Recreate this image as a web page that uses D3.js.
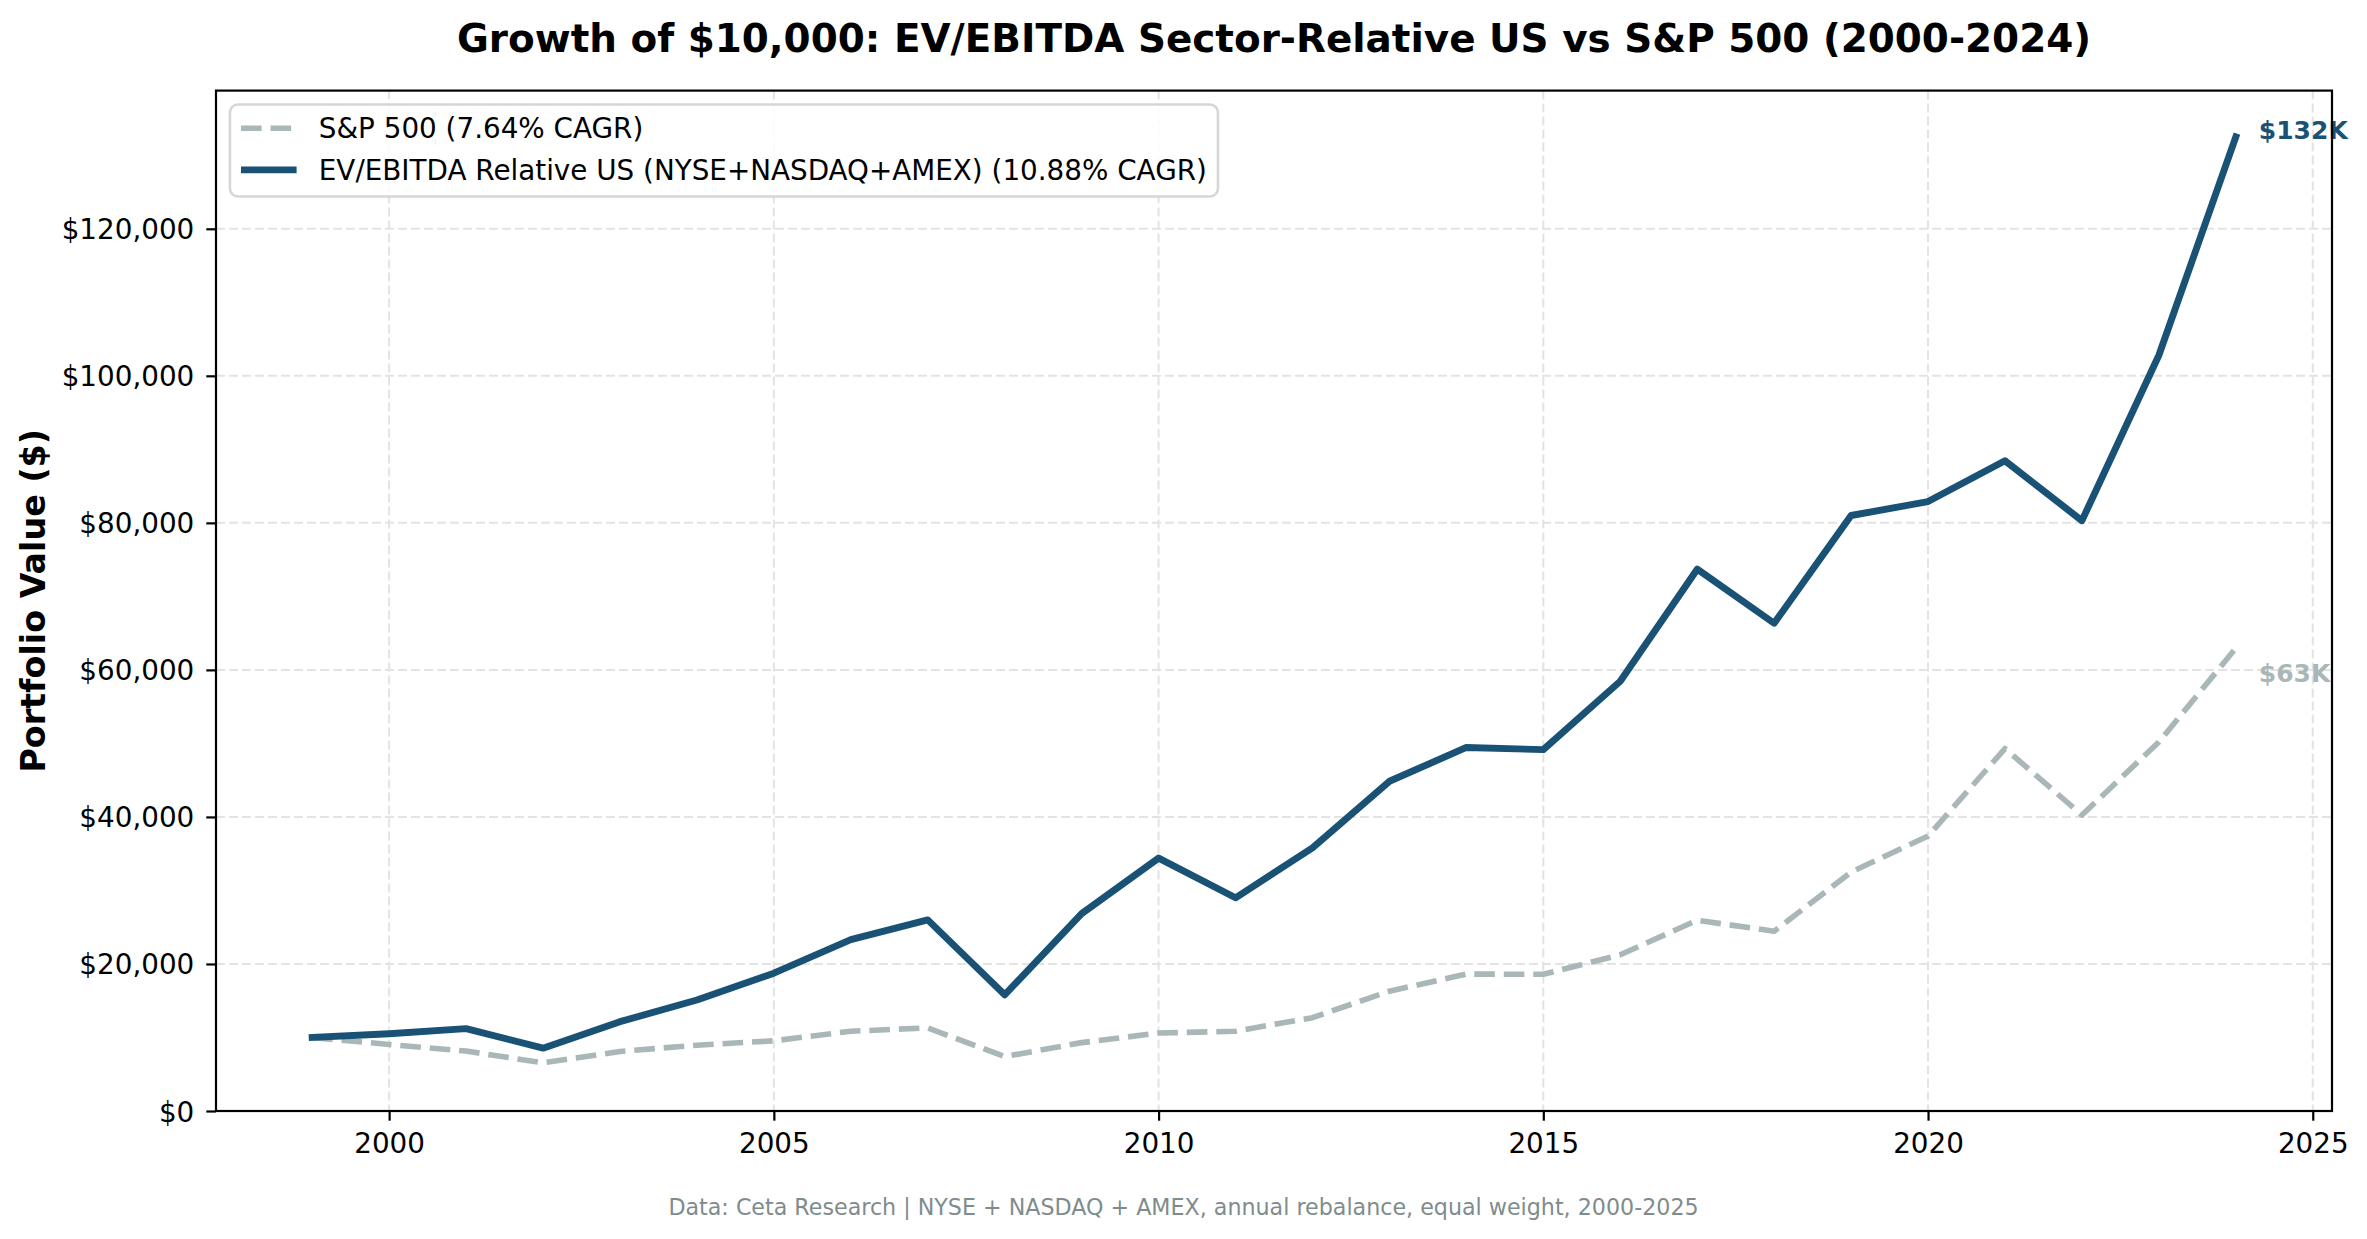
<!DOCTYPE html>
<html>
<head>
<meta charset="utf-8">
<script src="https://cdn.jsdelivr.net/npm/d3@7/dist/d3.min.js"></script>
<style>
  html, body { margin: 0; padding: 0; background: #ffffff; }
  svg { display: block; font-family: "DejaVu Sans", sans-serif; }
</style>
</head>
<body>
<svg id="chart" width="2367" height="1239"></svg>
<script>
// ---- data ----
const years = [1999, 2000, 2001, 2002, 2003, 2004, 2005, 2006, 2007, 2008, 2009, 2010, 2011,
               2012, 2013, 2014, 2015, 2016, 2017, 2018, 2019, 2020, 2021, 2022, 2023, 2024];
const sp500 = [10000, 9050, 8150, 6550, 8100, 8950, 9550, 10850, 11300, 7400, 9300, 10600, 10850,
               12700, 16300, 18620, 18600, 21250, 25950, 24450, 32500, 37400, 49300, 40250, 50200, 62950];
const evEbitda = [10000, 10500, 11200, 8550, 12150, 15100, 18750, 23300, 26000, 15800, 26850, 34400, 29000,
                  35800, 44850, 49450, 49150, 58450, 73700, 66350, 81000, 82900, 88450, 80300, 102800, 132500];
const seriesNames = ["S&P 500 (7.64% CAGR)", "EV/EBITDA Relative US (NYSE+NASDAQ+AMEX) (10.88% CAGR)"];
const endLabels = ["$63K", "$132K"];
const xTickValues = [2000, 2005, 2010, 2015, 2020, 2025];
const yTickValues = [0, 20000, 40000, 60000, 80000, 100000, 120000];
const titleText = "Growth of $10,000: EV/EBITDA Sector-Relative US vs S&P 500 (2000-2024)";
const yLabelText = "Portfolio Value ($)";
const footerText = "Data: Ceta Research | NYSE + NASDAQ + AMEX, annual rebalance, equal weight, 2000-2025";

// ---- layout / style ----
const W = 2367, H = 1239;
const plot = { left: 216, right: 2332, top: 90.6, bottom: 1111 };
const COLORS = { sp: "#aab7b8", ev: "#1a5276", footer: "#7f8c8d", grid: "#e3e3e3" };
const FS = { tick: 27.8, legend: 27.8, title: 38.9, ylabel: 33.3, footer: 22.2, end: 25 };

const svg = d3.select("#chart");
svg.append("rect").attr("width", W).attr("height", H).attr("fill", "#ffffff");

const xMin = d3.min(years), xMax = d3.max(years);
const xPad = (xMax - xMin) * 0.05;
const allVals = sp500.concat(evEbitda);
const vMin = d3.min(allVals), vMax = d3.max(allVals);
const yTop = vMax + (vMax - vMin) * 0.05;

const x = d3.scaleLinear().domain([xMin - xPad, xMax + xPad]).range([plot.left, plot.right]);
const y = d3.scaleLinear().domain([0, yTop]).range([plot.bottom, plot.top]);

// ---- grid ----
const grid = svg.append("g");
grid.selectAll("line.vg").data(xTickValues).join("line")
  .attr("x1", d => x(d)).attr("x2", d => x(d))
  .attr("y1", plot.top).attr("y2", plot.bottom)
  .attr("stroke", COLORS.grid).attr("stroke-width", 2).attr("stroke-dasharray", "9,4");
grid.selectAll("line.hg").data(yTickValues).join("line")
  .attr("x1", plot.left).attr("x2", plot.right)
  .attr("y1", d => y(d)).attr("y2", d => y(d))
  .attr("stroke", COLORS.grid).attr("stroke-width", 2).attr("stroke-dasharray", "9,4");

// ---- lines ----
const lineGen = d3.line().x(d => x(d[0])).y(d => y(d[1]));
const spData = years.map((yr, i) => [yr, sp500[i]]);
const evData = years.map((yr, i) => [yr, evEbitda[i]]);

const clip = svg.append("clipPath").attr("id", "plotclip").append("rect")
  .attr("x", plot.left).attr("y", plot.top)
  .attr("width", plot.right - plot.left).attr("height", plot.bottom - plot.top);

const lines = svg.append("g").attr("clip-path", "url(#plotclip)");
lines.append("path").datum(spData).attr("d", lineGen)
  .attr("fill", "none").attr("stroke", COLORS.sp).attr("stroke-width", 5.6)
  .attr("stroke-dasharray", "20.6,8.9").attr("stroke-linejoin", "round").attr("stroke-linecap", "butt");
lines.append("path").datum(evData).attr("d", lineGen)
  .attr("fill", "none").attr("stroke", COLORS.ev).attr("stroke-width", 6.9)
  .attr("stroke-linejoin", "round").attr("stroke-linecap", "square");

// ---- end labels ----
const lastIdx = years.length - 1;
const endDefs = [
  { v: sp500[lastIdx], text: endLabels[0], color: COLORS.sp, dy: 24.5 },
  { v: evEbitda[lastIdx], text: endLabels[1], color: COLORS.ev, dy: -7 }
];
svg.append("g").selectAll("text").data(endDefs).join("text")
  .attr("x", x(years[lastIdx]) + 23)
  .attr("y", d => y(d.v) + d.dy + FS.end * 0.36)
  .attr("fill", d => d.color)
  .attr("font-size", FS.end).attr("font-weight", "bold")
  .text(d => d.text);

// ---- axes ----
const xAxis = d3.axisBottom(x).tickValues(xTickValues).tickFormat(d3.format("d"))
  .tickSize(9.7).tickPadding(12.6);
const gx = svg.append("g").attr("transform", `translate(0,${plot.bottom})`).call(xAxis);
gx.select(".domain").remove();
gx.selectAll(".tick line").attr("stroke", "#000").attr("stroke-width", 2.2);
gx.selectAll(".tick text").attr("font-size", FS.tick).attr("fill", "#000")
  .attr("font-family", "DejaVu Sans").attr("dy", "0.71em");

const yAxis = d3.axisLeft(y).tickValues(yTickValues).tickFormat(d => "$" + d3.format(",")(d))
  .tickSize(9.7).tickPadding(12);
const gy = svg.append("g").attr("transform", `translate(${plot.left},0)`).call(yAxis);
gy.select(".domain").remove();
gy.selectAll(".tick line").attr("stroke", "#000").attr("stroke-width", 2.2);
gy.selectAll(".tick text").attr("font-size", FS.tick).attr("fill", "#000")
  .attr("font-family", "DejaVu Sans").attr("dy", "0.36em");

// spines
svg.append("rect").attr("x", plot.left).attr("y", plot.top)
  .attr("width", plot.right - plot.left).attr("height", plot.bottom - plot.top)
  .attr("fill", "none").attr("stroke", "#000").attr("stroke-width", 2.2);

// ---- legend ----
const lg = svg.append("g");
const lgLeft = plot.left + 13.9, lgTop = plot.top + 13.9;
const bp = 11.1, hl = 55.6, htp = 22.2;
const rowY = [lgTop + 23.7, lgTop + 65.4];
const lgBox = lg.append("rect").attr("x", lgLeft).attr("y", lgTop).attr("rx", 8).attr("ry", 8)
  .attr("fill", "#ffffff").attr("fill-opacity", 0.85)
  .attr("stroke", "#d6d6d6").attr("stroke-width", 2.6);
const legendDefs = [
  { name: seriesNames[0], color: COLORS.sp, w: 5.6, dash: "20.6,8.9" },
  { name: seriesNames[1], color: COLORS.ev, w: 6.9, dash: null }
];
let maxLen = 0;
legendDefs.forEach((d, i) => {
  const ln = lg.append("line")
    .attr("x1", lgLeft + bp).attr("x2", lgLeft + bp + hl)
    .attr("y1", rowY[i]).attr("y2", rowY[i])
    .attr("stroke", d.color).attr("stroke-width", d.w);
  if (d.dash) ln.attr("stroke-dasharray", d.dash);
  const t = lg.append("text")
    .attr("x", lgLeft + bp + hl + htp).attr("y", rowY[i] + FS.legend * 0.36)
    .attr("font-size", FS.legend).attr("fill", "#000").text(d.name);
  maxLen = Math.max(maxLen, t.node().getComputedTextLength());
});
lgBox.attr("width", bp + hl + htp + maxLen + bp).attr("height", 92);

// ---- title, labels, footer ----
svg.append("text").attr("x", (plot.left + plot.right) / 2).attr("y", 51.5)
  .attr("text-anchor", "middle").attr("font-size", FS.title).attr("font-weight", "bold")
  .attr("fill", "#000").text(titleText);

svg.append("text").attr("transform", `translate(45,${(plot.top + plot.bottom) / 2}) rotate(-90)`)
  .attr("text-anchor", "middle").attr("font-size", FS.ylabel).attr("font-weight", "bold")
  .attr("fill", "#000").text(yLabelText);

svg.append("text").attr("x", W / 2).attr("y", 1215)
  .attr("text-anchor", "middle").attr("font-size", FS.footer)
  .attr("fill", COLORS.footer).text(footerText);
</script>
</body>
</html>
